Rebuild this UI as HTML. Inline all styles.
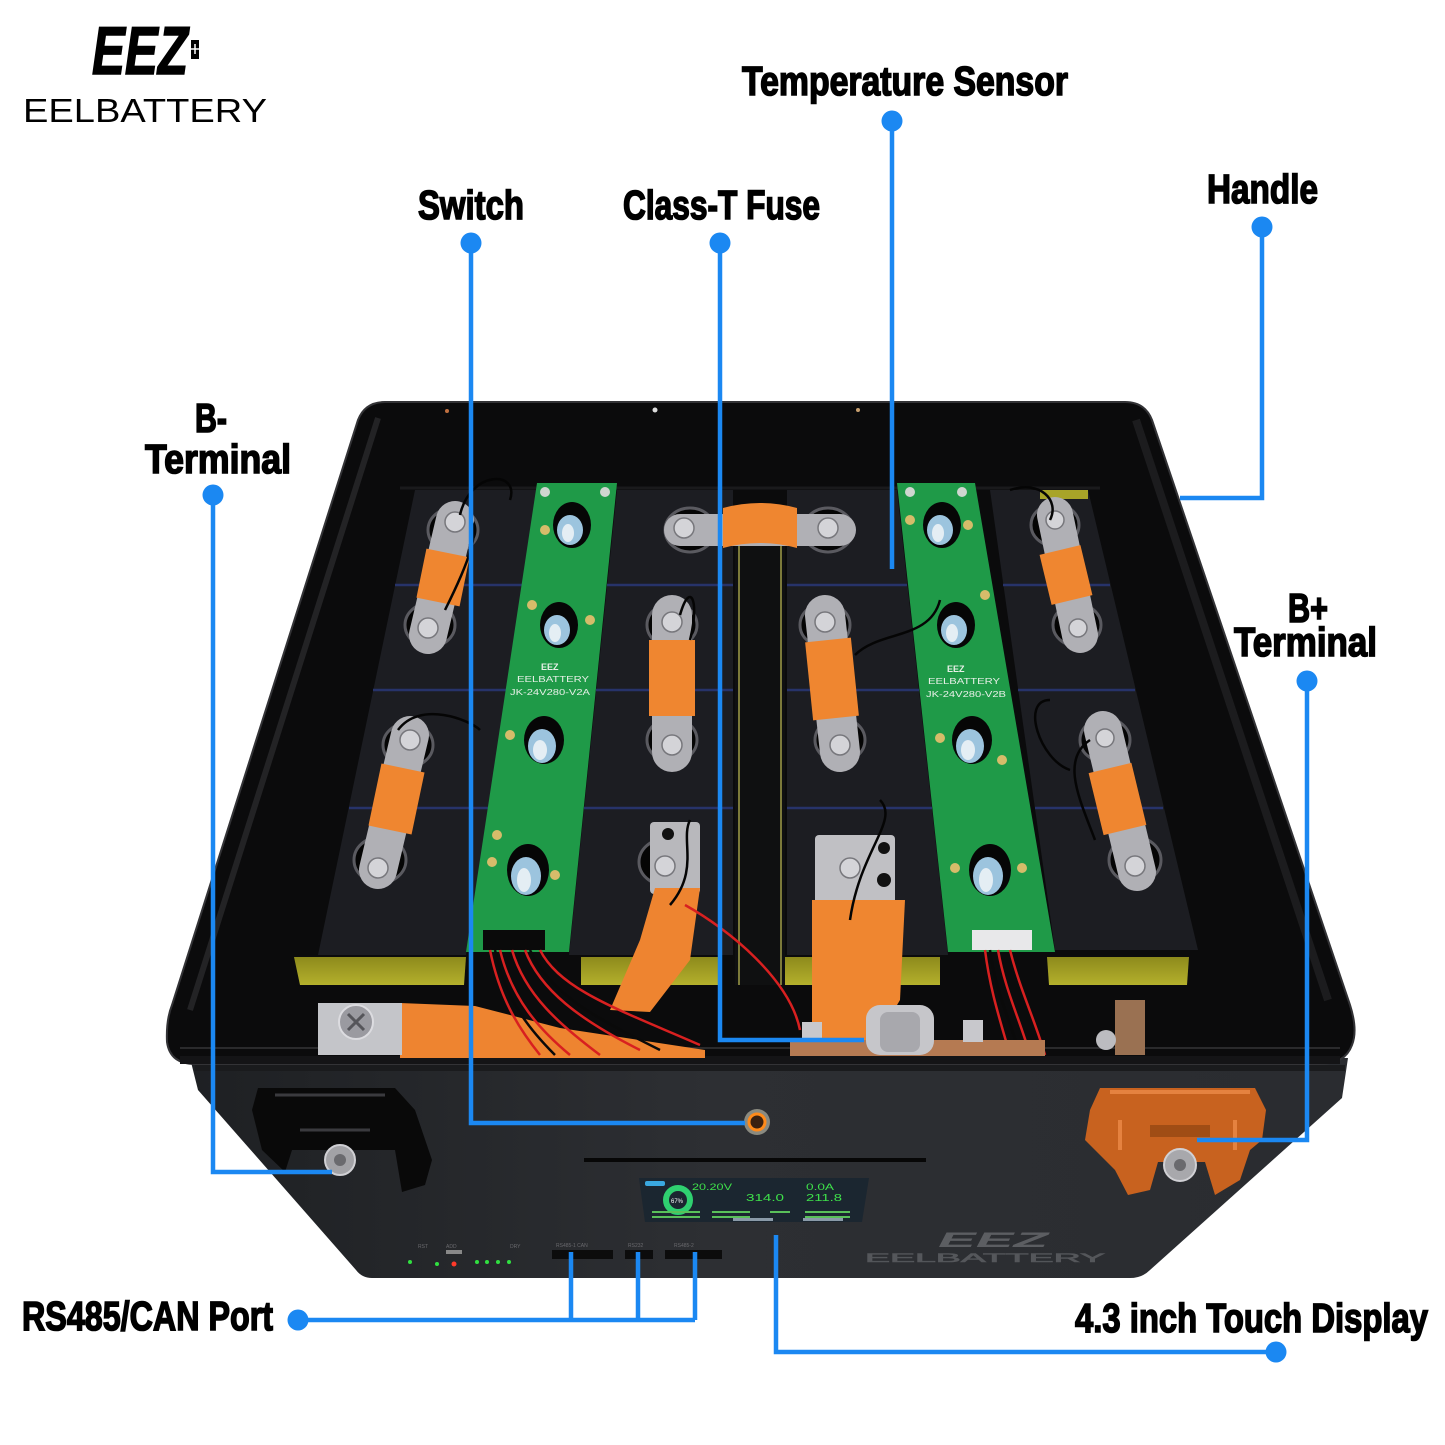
<!DOCTYPE html>
<html><head><meta charset="utf-8"><style>
html,body{margin:0;padding:0;background:#fff;}
svg{display:block}
.lbl{font-family:"Liberation Sans Narrow","Liberation Sans",sans-serif;font-weight:bold;fill:#000;stroke:#000;stroke-width:1.6}
.tiny{font-family:"Liberation Sans",sans-serif;}
</style></head><body>
<svg width="1445" height="1445" viewBox="0 0 1445 1445" xmlns="http://www.w3.org/2000/svg">
<defs>
<linearGradient id="body" x1="0" y1="0" x2="1" y2="0">
 <stop offset="0" stop-color="#1e2023"/>
 <stop offset="0.45" stop-color="#2d2f33"/>
 <stop offset="1" stop-color="#2a2c30"/>
</linearGradient>
<linearGradient id="yel" x1="0" y1="0" x2="0" y2="1">
 <stop offset="0" stop-color="#8d8a1c"/>
 <stop offset="1" stop-color="#b4b02c"/>
</linearGradient>
</defs>
<rect width="1445" height="1445" fill="#fff"/>

<!-- Logo -->
<text x="92" y="74" class="lbl" font-size="68" font-style="italic" textLength="96" lengthAdjust="spacingAndGlyphs" stroke-width="5">EEZ</text>
<rect x="191" y="40" width="8" height="19" fill="#000"/>
<path d="M195,44 V54 M191,49 H199" stroke="#fff" stroke-width="1.5"/>
<text x="23" y="122" font-family="Liberation Sans, sans-serif" font-size="33" textLength="244" lengthAdjust="spacingAndGlyphs" fill="#000">EELBATTERY</text>

<!-- Body front -->
<path d="M190,1058 L1348,1058 L1342,1098 L1150,1270 Q1142,1278 1130,1278 L372,1278 Q362,1278 356,1270 L198,1090 Z" fill="url(#body)"/>
<path d="M195,1068 H1345" stroke="#1a1b1d" stroke-width="6"/>

<!-- Lid -->
<path d="M385,402 L1125,402 Q1145,402 1152,420 L1350,1005 Q1358,1030 1352,1045 Q1345,1064 1320,1064 L195,1064 Q170,1064 167,1042 Q166,1020 172,1005 L358,420 Q365,402 385,402 Z" fill="#0b0b0c" stroke="#333336" stroke-width="2"/>
<path d="M378,418 L190,1010" stroke="#232325" stroke-width="6" fill="none"/>
<path d="M1136,420 L1328,1000" stroke="#1c1c1e" stroke-width="8" fill="none"/>
<path d="M180,1048 H1340" stroke="#2a2a2c" stroke-width="2"/>
<rect x="180" y="1056" width="1160" height="8" fill="#141416"/>
<circle cx="447" cy="411" r="2" fill="#c07040"/>
<circle cx="655" cy="410" r="2.5" fill="#ddd"/>
<circle cx="858" cy="410" r="2" fill="#c8a070"/>

<path d="M400,488 H1100" stroke="#1a1a1c" stroke-width="3"/>

<!-- Cell columns -->
<polygon points="415,490 540,490 466,955 318,955" fill="#1c1d22"/>
<polygon points="617,490 733,490 733,955 569,955" fill="#1c1d22"/>
<polygon points="787,490 897,490 948,955 787,955" fill="#1c1d22"/>
<polygon points="990,490 1088,490 1198,950 1055,950" fill="#1c1d22"/>
<g stroke="#27336a" stroke-width="2.5">
<path d="M395,585 H525 M373,690 H508 M349,808 H489"/>
<path d="M607,585 H733 M596,690 H733 M584,808 H733"/>
<path d="M787,585 H907 M787,690 H919 M787,808 H932"/>
<path d="M1003,585 H1110 M1018,690 H1135 M1035,808 H1163"/>
</g>
<rect x="1040" y="490" width="48" height="9" fill="#a8a428"/>

<!-- Center channel -->
<rect x="735" y="505" width="50" height="480" fill="#0f1011"/>
<path d="M739,510 V985 M781,510 V985" stroke="#7c7a3a" stroke-width="2"/>

<!-- Yellow strips -->
<polygon points="294,957 466,957 464,985 300,985" fill="url(#yel)"/>
<polygon points="581,957 718,957 718,985 581,985" fill="url(#yel)"/>
<polygon points="785,957 940,957 940,985 785,985" fill="url(#yel)"/>
<polygon points="1047,957 1189,957 1187,985 1049,985" fill="url(#yel)"/>

<!-- Terminals -->
<g fill="#050505" stroke="#5a5a60" stroke-width="3">
<ellipse cx="453" cy="530" rx="25" ry="22"/><ellipse cx="430" cy="625" rx="25" ry="22"/>
<ellipse cx="408" cy="745" rx="25" ry="22"/><ellipse cx="380" cy="860" rx="26" ry="23"/>
<ellipse cx="690" cy="530" rx="25" ry="22"/><ellipse cx="672" cy="625" rx="25" ry="22"/>
<ellipse cx="672" cy="740" rx="25" ry="22"/><ellipse cx="665" cy="862" rx="26" ry="23"/>
<ellipse cx="828" cy="530" rx="25" ry="22"/><ellipse cx="825" cy="625" rx="25" ry="22"/>
<ellipse cx="840" cy="740" rx="25" ry="22"/><ellipse cx="855" cy="865" rx="26" ry="23"/>
<ellipse cx="1055" cy="525" rx="24" ry="21"/><ellipse cx="1077" cy="625" rx="24" ry="21"/>
<ellipse cx="1105" cy="740" rx="25" ry="22"/><ellipse cx="1135" cy="860" rx="26" ry="23"/>
</g>
<g stroke="#b0b0b5" stroke-linecap="round" fill="none">
<path d="M455,520 L428,635" stroke-width="38"/>
<path d="M410,735 L378,870" stroke-width="38"/>
<path d="M672,615 V752" stroke-width="40"/>
<path d="M825,615 L840,752" stroke-width="40"/>
<path d="M1055,515 L1080,635" stroke-width="36"/>
<path d="M1103,730 L1137,872" stroke-width="38"/>
<path d="M680,530 H840" stroke-width="32"/>
</g>
<rect x="650" y="822" width="50" height="72" rx="4" fill="#b8b8bc"/>
<rect x="815" y="835" width="80" height="70" rx="4" fill="#c0c0c4"/>
<circle cx="884" cy="848" r="6" fill="#111"/><circle cx="884" cy="880" r="7" fill="#111"/>
<circle cx="668" cy="834" r="6" fill="#111"/>
<g fill="#d4d4d8" stroke="#77777c" stroke-width="1.5">
<circle cx="455" cy="522" r="10"/><circle cx="428" cy="628" r="10"/>
<circle cx="410" cy="740" r="10"/><circle cx="378" cy="868" r="10"/>
<circle cx="684" cy="528" r="10"/><circle cx="672" cy="622" r="10"/>
<circle cx="672" cy="745" r="10"/><circle cx="665" cy="866" r="10"/>
<circle cx="828" cy="528" r="10"/><circle cx="825" cy="622" r="10"/>
<circle cx="840" cy="745" r="10"/><circle cx="850" cy="868" r="10"/>
<circle cx="1055" cy="520" r="9"/><circle cx="1078" cy="628" r="9"/>
<circle cx="1105" cy="738" r="9"/><circle cx="1135" cy="866" r="10"/>
</g>
<g stroke="#ef8630" fill="none">
<path d="M448,553 L438,602" stroke-width="44"/>
<path d="M403,768 L390,830" stroke-width="44"/>
<path d="M672,640 V716" stroke-width="46"/>
<path d="M828,640 L836,718" stroke-width="46"/>
<path d="M1060,550 L1072,600" stroke-width="42"/>
<path d="M1110,768 L1125,830" stroke-width="44"/>
</g>
<path d="M723,508 Q760,498 797,508 L797,548 Q760,538 723,548 Z" fill="#ef8630"/>
<polygon points="655,888 700,888 690,960 650,1012 610,1010 640,940" fill="#ee8430"/>
<polygon points="812,900 905,900 900,1000 875,1042 812,1042" fill="#ef8630"/>

<!-- PCBs -->
<polygon points="537,483 617,483 569,952 466,952" fill="#1f9a48"/>
<polygon points="897,483 975,483 1055,952 948,952" fill="#1f9a48"/>
<g fill="#060606">
<ellipse cx="572" cy="525" rx="19" ry="23"/><ellipse cx="559" cy="625" rx="19" ry="23"/>
<ellipse cx="544" cy="740" rx="20" ry="24"/><ellipse cx="528" cy="870" rx="21" ry="26"/>
<ellipse cx="942" cy="525" rx="19" ry="23"/><ellipse cx="956" cy="625" rx="19" ry="23"/>
<ellipse cx="972" cy="740" rx="20" ry="24"/><ellipse cx="990" cy="870" rx="21" ry="26"/>
</g>
<g fill="#9cc4de">
<ellipse cx="570" cy="530" rx="13" ry="15"/><ellipse cx="557" cy="630" rx="13" ry="15"/>
<ellipse cx="542" cy="746" rx="14" ry="17"/><ellipse cx="526" cy="876" rx="15" ry="19"/>
<ellipse cx="940" cy="530" rx="13" ry="15"/><ellipse cx="954" cy="630" rx="13" ry="15"/>
<ellipse cx="970" cy="746" rx="14" ry="17"/><ellipse cx="988" cy="876" rx="15" ry="19"/>
</g>
<g fill="#e4eef4">
<ellipse cx="568" cy="533" rx="6" ry="9"/><ellipse cx="555" cy="633" rx="6" ry="9"/>
<ellipse cx="540" cy="750" rx="7" ry="10"/><ellipse cx="524" cy="880" rx="7" ry="12"/>
<ellipse cx="938" cy="533" rx="6" ry="9"/><ellipse cx="952" cy="633" rx="6" ry="9"/>
<ellipse cx="968" cy="750" rx="7" ry="10"/><ellipse cx="986" cy="880" rx="7" ry="12"/>
</g>
<g fill="#d6bc6a">
<circle cx="545" cy="530" r="5"/><circle cx="532" cy="605" r="5"/><circle cx="590" cy="620" r="5"/>
<circle cx="510" cy="735" r="5"/><circle cx="497" cy="835" r="5"/><circle cx="492" cy="862" r="5"/><circle cx="555" cy="875" r="5"/>
<circle cx="910" cy="520" r="5"/><circle cx="968" cy="525" r="5"/><circle cx="985" cy="595" r="5"/>
<circle cx="940" cy="738" r="5"/><circle cx="1002" cy="760" r="5"/><circle cx="955" cy="868" r="5"/><circle cx="1022" cy="868" r="5"/>
</g>
<g fill="#cfd6d0"><circle cx="545" cy="492" r="5"/><circle cx="605" cy="492" r="5"/><circle cx="910" cy="492" r="5"/><circle cx="962" cy="492" r="5"/></g>
<text x="541" y="670" class="tiny" font-size="9" fill="#e8f0e8" font-weight="bold">EEZ</text>
<text x="517" y="682" class="tiny" font-size="8" fill="#e8f0e8" textLength="72" lengthAdjust="spacingAndGlyphs">EELBATTERY</text>
<text x="510" y="695" class="tiny" font-size="8" fill="#e8f0e8" textLength="80" lengthAdjust="spacingAndGlyphs">JK-24V280-V2A</text>
<text x="947" y="672" class="tiny" font-size="9" fill="#e8f0e8" font-weight="bold">EEZ</text>
<text x="928" y="684" class="tiny" font-size="8" fill="#e8f0e8" textLength="72" lengthAdjust="spacingAndGlyphs">EELBATTERY</text>
<text x="926" y="697" class="tiny" font-size="8" fill="#e8f0e8" textLength="80" lengthAdjust="spacingAndGlyphs">JK-24V280-V2B</text>
<rect x="483" y="930" width="62" height="20" fill="#0a0a0a"/>
<rect x="972" y="930" width="60" height="20" fill="#e8e8ea"/>

<!-- Black wires -->
<g stroke="#050505" stroke-width="2.5" fill="none">
<path d="M460,515 C470,470 520,470 510,500"/>
<path d="M445,610 C470,560 480,530 470,520"/>
<path d="M398,730 C420,700 470,720 480,730"/>
<path d="M670,905 C700,870 680,840 690,820"/>
<path d="M850,920 C860,850 900,820 880,800"/>
<path d="M1050,700 C1020,700 1040,760 1070,770"/>
<path d="M1010,490 C1040,480 1060,500 1050,520"/>
<path d="M690,640 C700,600 690,580 680,615"/>
<path d="M855,655 C880,630 930,640 940,600"/>
<path d="M1095,840 C1080,800 1060,760 1090,740"/>
</g>

<!-- Front interior -->
<polygon points="400,1003 475,1006 560,1028 705,1050 705,1058 400,1058" fill="#ee8430"/>
<rect x="318" y="1003" width="84" height="52" fill="#c4c5c9"/>
<circle cx="356" cy="1022" r="17" fill="#9a9aa0" stroke="#dcdce0" stroke-width="2"/>
<path d="M348,1014 L364,1030 M364,1014 L348,1030" stroke="#55555a" stroke-width="3"/>
<g stroke="#d82020" stroke-width="2.5" fill="none">
<path d="M490,950 C500,1000 520,1030 540,1055"/>
<path d="M500,950 C512,1000 540,1030 570,1055"/>
<path d="M512,950 C525,995 560,1025 600,1055"/>
<path d="M525,950 C540,990 580,1020 640,1050"/>
<path d="M540,950 C560,990 620,1010 700,1045"/>
<path d="M685,905 C730,930 790,980 800,1030"/>
<path d="M985,950 C990,990 1000,1020 1010,1055"/>
<path d="M998,950 C1005,990 1020,1020 1030,1055"/>
<path d="M1010,950 C1020,990 1035,1020 1045,1055"/>
</g>
<g stroke="#0a0a0a" stroke-width="2.5" fill="none">
<path d="M495,950 C505,1000 530,1030 555,1055"/>
<path d="M530,950 C550,995 600,1020 660,1050"/>
<path d="M990,950 C995,990 1010,1020 1020,1055"/>
</g>
<rect x="790" y="1040" width="255" height="16" fill="#b57a52"/>
<rect x="866" y="1005" width="68" height="50" rx="14" fill="#c6c6ca"/>
<rect x="880" y="1012" width="40" height="40" rx="8" fill="#a8a8ad"/>
<rect x="802" y="1022" width="20" height="20" fill="#c8c8cc"/>
<rect x="963" y="1020" width="20" height="22" fill="#c8c8cc"/>
<rect x="1115" y="1000" width="30" height="55" fill="#9a7152"/>
<circle cx="1106" cy="1040" r="10" fill="#bcbcc0"/>

<!-- Front panel items -->
<path d="M258,1088 L395,1088 L415,1110 L432,1160 L425,1185 L402,1192 L395,1150 L292,1150 L285,1172 L262,1150 L252,1110 Z" fill="#090909"/>
<path d="M275,1095 H385 M300,1130 H370" stroke="#3a3a3e" stroke-width="3"/>
<circle cx="340" cy="1160" r="15" fill="#a2a2a6" stroke="#d0d0d4" stroke-width="2"/>
<circle cx="340" cy="1160" r="6" fill="#6a6a6e"/>

<path d="M1100,1088 L1255,1088 L1266,1110 L1262,1140 L1250,1150 L1240,1180 L1215,1195 L1205,1162 L1158,1162 L1150,1190 L1128,1195 L1115,1170 L1085,1140 L1090,1110 Z" fill="#c8621f"/>
<path d="M1110,1092 H1250 M1120,1120 V1150 M1235,1120 V1150" stroke="#e58240" stroke-width="4"/>
<rect x="1150" y="1125" width="60" height="12" fill="#a04d15"/>
<circle cx="1180" cy="1165" r="16" fill="#a8a8ac" stroke="#d0d0d4" stroke-width="2"/>
<circle cx="1180" cy="1165" r="6" fill="#6a6a6e"/>

<circle cx="757" cy="1122" r="13" fill="#8a8a80"/>
<circle cx="757" cy="1122" r="8" fill="#3a2010" stroke="#ff8a1a" stroke-width="3"/>

<path d="M584,1160 H926" stroke="#070707" stroke-width="4"/>

<!-- Display -->
<polygon points="639,1178 869,1178 862,1222 645,1222" fill="#1b2630"/>
<rect x="645" y="1181" width="20" height="5" rx="2" fill="#3aa8e0"/>
<text x="692" y="1190" class="tiny" font-size="9" fill="#3ee04a" textLength="40" lengthAdjust="spacingAndGlyphs">20.20V</text>
<text x="806" y="1190" class="tiny" font-size="9" fill="#3ee04a" textLength="28" lengthAdjust="spacingAndGlyphs">0.0A</text>
<circle cx="678" cy="1200" r="12" fill="none" stroke="#2fd070" stroke-width="6"/>
<text x="671" y="1203" class="tiny" font-size="6" fill="#fff">67%</text>
<text x="746" y="1201" class="tiny" font-size="10" fill="#3ee04a" textLength="38" lengthAdjust="spacingAndGlyphs">314.0</text>
<text x="806" y="1201" class="tiny" font-size="10" fill="#3ee04a" textLength="36" lengthAdjust="spacingAndGlyphs">211.8</text>
<path d="M652,1212 H700 M652,1217 H700 M712,1212 H750 M712,1217 H750 M770,1212 H790 M805,1212 H850 M805,1217 H850" stroke="#5ac05a" stroke-width="2"/>
<rect x="733" y="1218" width="40" height="3" fill="#8a9aa8"/>
<rect x="803" y="1218" width="40" height="3" fill="#8a9aa8"/>

<!-- Front logo -->
<text x="938" y="1247" class="tiny" font-size="21" font-weight="bold" font-style="italic" fill="#5c5e62" textLength="110" lengthAdjust="spacingAndGlyphs">EEZ</text>
<text x="865" y="1262" class="tiny" font-size="12" fill="#55575b" stroke="#55575b" stroke-width="0.5" textLength="240" lengthAdjust="spacingAndGlyphs">EELBATTERY</text>

<!-- Ports and LEDs -->
<rect x="552" y="1250" width="61" height="9" fill="#0c0c0c"/>
<rect x="625" y="1250" width="28" height="9" fill="#0c0c0c"/>
<rect x="665" y="1250" width="57" height="9" fill="#0c0c0c"/>
<g class="tiny" font-size="5" fill="#6a6a6e">
<text x="556" y="1247">RS485-1 CAN</text><text x="628" y="1247">RS232</text><text x="674" y="1247">RS485-2</text>
<text x="418" y="1248">RST</text><text x="446" y="1248">ADD</text><text x="510" y="1248">DRY</text>
</g>
<rect x="446" y="1250" width="16" height="4" fill="#888"/>
<g fill="#30e040"><circle cx="410" cy="1262" r="2"/><circle cx="437" cy="1264" r="2"/><circle cx="477" cy="1262" r="2"/><circle cx="487" cy="1262" r="2"/><circle cx="498" cy="1262" r="2"/><circle cx="509" cy="1262" r="2"/></g>
<circle cx="454" cy="1264" r="2.5" fill="#ff3a2a"/>

<!-- Blue callout lines -->
<g stroke="#1b88f2" stroke-width="4.5" fill="none" stroke-linejoin="miter">
<path d="M213,495 V1172 H332"/>
<path d="M471,243 V1123 H745"/>
<path d="M720,243 V1040 H864"/>
<path d="M892,121 V569"/>
<path d="M1262,227 V498 H1180"/>
<path d="M1307,681 V1140 H1197"/>
<path d="M298,1320 H695 M571,1252 V1320 M638,1252 V1320 M695,1252 V1320"/>
<path d="M776,1235 V1352 H1276"/>
</g>
<g fill="#1b88f2">
<circle cx="213" cy="495" r="10.5"/><circle cx="471" cy="243" r="10.5"/>
<circle cx="720" cy="243" r="10.5"/><circle cx="892" cy="121" r="10.5"/>
<circle cx="1262" cy="227" r="10.5"/><circle cx="1307" cy="681" r="10.5"/>
<circle cx="298" cy="1320" r="10.5"/><circle cx="1276" cy="1352" r="10.5"/>
</g>

<!-- Labels -->
<text x="742" y="95" class="lbl" font-size="41" textLength="326" lengthAdjust="spacingAndGlyphs">Temperature Sensor</text>
<text x="418" y="219" class="lbl" font-size="41" textLength="106" lengthAdjust="spacingAndGlyphs">Switch</text>
<text x="623" y="219" class="lbl" font-size="41" textLength="197" lengthAdjust="spacingAndGlyphs">Class-T Fuse</text>
<text x="1207" y="203" class="lbl" font-size="41" textLength="111" lengthAdjust="spacingAndGlyphs">Handle</text>
<text x="195" y="432" class="lbl" font-size="41" textLength="32" lengthAdjust="spacingAndGlyphs">B-</text>
<text x="145" y="473" class="lbl" font-size="41" textLength="146" lengthAdjust="spacingAndGlyphs">Terminal</text>
<text x="1288" y="622" class="lbl" font-size="41" textLength="40" lengthAdjust="spacingAndGlyphs">B+</text>
<text x="1234" y="656" class="lbl" font-size="41" textLength="143" lengthAdjust="spacingAndGlyphs">Terminal</text>
<text x="22" y="1330" class="lbl" font-size="41" textLength="251" lengthAdjust="spacingAndGlyphs">RS485/CAN Port</text>
<text x="1075" y="1332" class="lbl" font-size="41" textLength="353" lengthAdjust="spacingAndGlyphs">4.3 inch Touch Display</text>
</svg>
</body></html>
